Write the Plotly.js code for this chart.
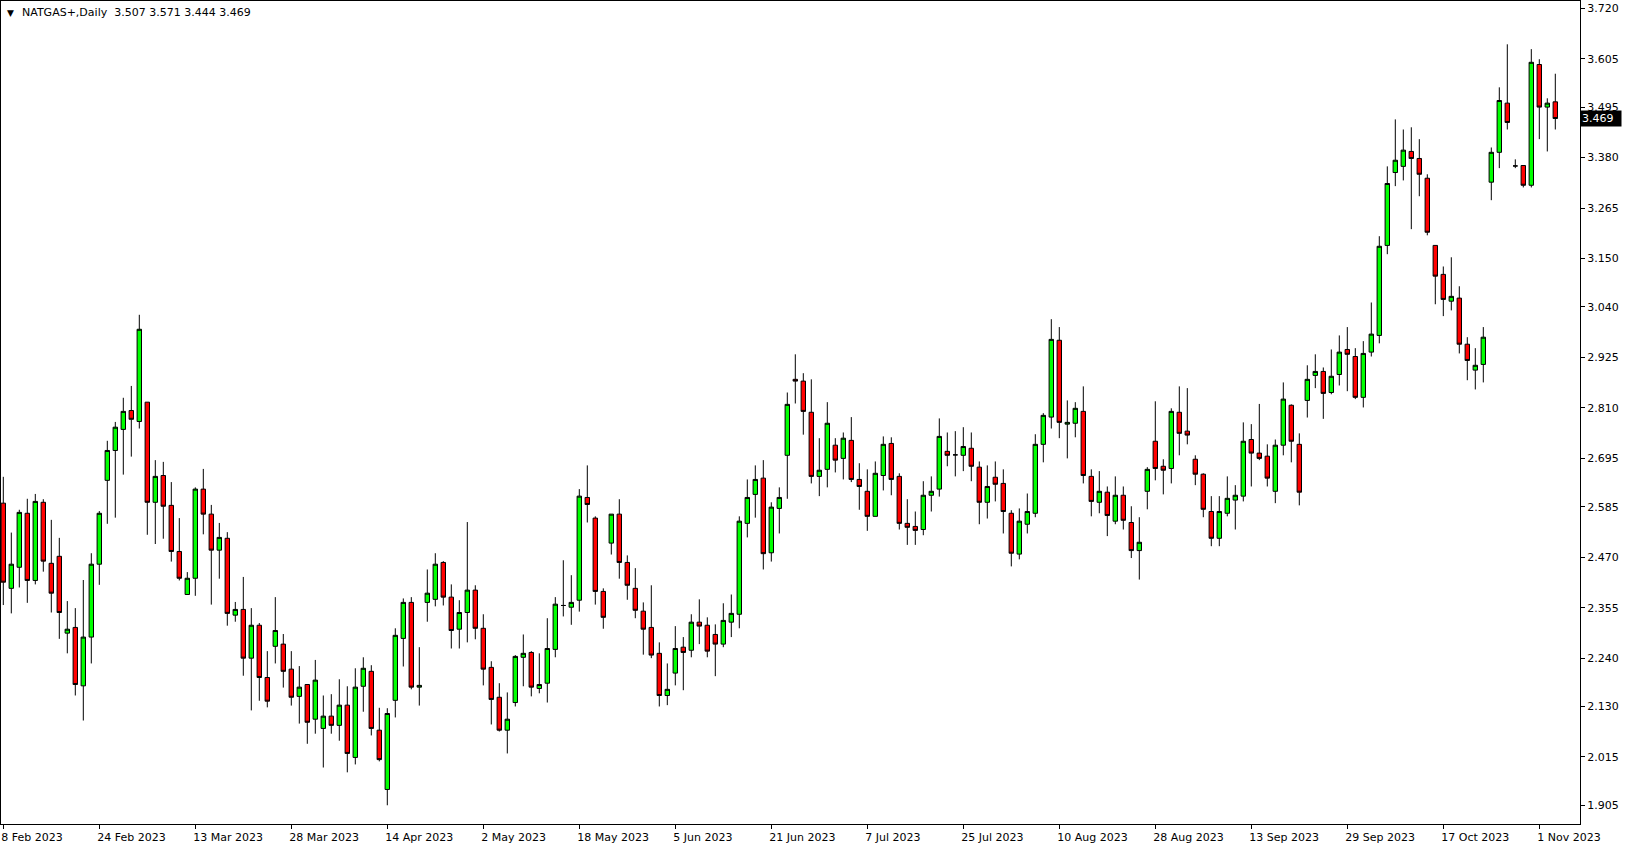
<!DOCTYPE html>
<html><head><meta charset="utf-8">
<script src="https://cdn.plot.ly/plotly-3.0.1.min.js"></script>
<style>html,body{margin:0;padding:0;background:#fff;overflow:hidden}#chart{width:1629px;height:850px}</style>
</head><body><div id="chart"></div>
<script>
const SYMBOL = "NATGAS+,Daily";

const OPEN = [
2.593,2.399,2.447,2.570,2.417,2.595,2.456,2.472,2.297,2.310,
2.177,2.288,2.454,2.645,2.713,2.761,2.804,2.779,2.823,2.595,
2.656,2.588,2.483,2.385,2.422,2.625,2.568,2.486,2.513,2.338,
2.351,2.240,2.315,2.196,2.267,2.272,2.215,2.153,2.180,2.101,
2.080,2.108,2.087,2.133,2.014,2.176,2.210,2.076,1.941,2.144,
2.285,2.367,2.174,2.367,2.374,2.458,2.379,2.306,2.344,2.395,
2.308,2.219,2.151,2.076,2.139,2.242,2.253,2.171,2.183,2.260,
2.360,2.356,2.372,2.606,2.559,2.392,2.502,2.568,2.458,2.399,
2.347,2.310,2.251,2.155,2.206,2.265,2.258,2.322,2.315,2.294,
2.272,2.322,2.340,2.547,2.613,2.650,2.480,2.581,2.702,2.875,
2.871,2.800,2.654,2.670,2.725,2.695,2.736,2.647,2.620,2.563,
2.656,2.729,2.654,2.547,2.540,2.533,2.611,2.625,2.711,2.703,
2.702,2.718,2.675,2.595,2.652,2.638,2.570,2.477,2.545,2.570,
2.727,2.789,2.964,2.773,2.775,2.802,2.654,2.595,2.618,2.552,
2.611,2.549,2.485,2.620,2.734,2.677,2.672,2.800,2.757,2.693,
2.659,2.574,2.513,2.570,2.600,2.609,2.738,2.707,2.700,2.620,
2.725,2.816,2.727,2.827,2.884,2.893,2.845,2.886,2.943,2.927,
2.834,2.937,2.975,3.180,3.346,3.360,3.394,3.378,3.333,3.180,
3.114,3.053,3.060,2.955,2.896,2.909,3.324,3.392,3.504,3.361,
3.362,3.317,3.592,3.495,3.507];

const HIGH = [
2.653,2.526,2.578,2.603,2.614,2.602,2.555,2.514,2.370,2.354,
2.418,2.479,2.575,2.735,2.778,2.833,2.860,3.022,2.823,2.691,
2.687,2.641,2.559,2.436,2.629,2.671,2.589,2.548,2.527,2.368,
2.425,2.354,2.320,2.256,2.379,2.295,2.256,2.222,2.180,2.236,
2.155,2.158,2.192,2.176,2.217,2.242,2.224,2.127,2.126,2.308,
2.376,2.379,2.265,2.442,2.479,2.461,2.408,2.372,2.550,2.406,
2.340,2.233,2.183,2.162,2.247,2.294,2.256,2.251,2.331,2.379,
2.463,2.429,2.625,2.679,2.563,2.399,2.568,2.602,2.474,2.445,
2.367,2.406,2.276,2.228,2.313,2.288,2.340,2.374,2.333,2.317,
2.365,2.385,2.563,2.647,2.679,2.691,2.595,2.629,2.845,2.932,
2.889,2.875,2.741,2.823,2.741,2.754,2.789,2.684,2.670,2.688,
2.745,2.743,2.661,2.602,2.574,2.643,2.654,2.786,2.754,2.757,
2.766,2.754,2.688,2.679,2.688,2.670,2.577,2.581,2.615,2.750,
2.798,3.012,2.994,2.827,2.823,2.859,2.670,2.666,2.631,2.654,
2.631,2.586,2.561,2.675,2.825,2.693,2.809,2.859,2.855,2.702,
2.661,2.609,2.609,2.654,2.634,2.777,2.773,2.819,2.727,2.738,
2.868,2.818,2.752,2.907,2.932,2.902,2.943,2.975,2.994,2.946,
2.962,3.050,3.201,3.360,3.467,3.444,3.449,3.422,3.342,3.180,
3.132,3.153,3.087,2.971,2.946,2.994,3.403,3.540,3.638,3.376,
3.362,3.627,3.604,3.515,3.571];

const LOW = [
2.361,2.342,2.401,2.366,2.408,2.437,2.344,2.284,2.251,2.155,
2.098,2.228,2.407,2.546,2.560,2.658,2.699,2.763,2.521,2.500,
2.512,2.460,2.417,2.385,2.382,2.522,2.362,2.421,2.314,2.323,
2.200,2.121,2.143,2.128,2.228,2.173,2.132,2.091,2.045,2.068,
1.991,2.068,2.052,1.980,1.998,2.118,2.064,2.005,1.905,2.105,
2.221,2.169,2.132,2.323,2.358,2.360,2.262,2.262,2.276,2.283,
2.178,2.089,2.073,2.023,2.130,2.176,2.153,2.160,2.139,2.242,
2.335,2.316,2.346,2.549,2.362,2.307,2.476,2.421,2.373,2.331,
2.248,2.240,2.130,2.133,2.178,2.167,2.242,2.272,2.242,2.199,
2.265,2.288,2.308,2.515,2.560,2.442,2.460,2.524,2.603,2.820,
2.749,2.638,2.609,2.629,2.663,2.647,2.641,2.578,2.530,2.563,
2.622,2.611,2.533,2.498,2.498,2.520,2.574,2.608,2.677,2.654,
2.666,2.643,2.545,2.558,2.597,2.524,2.449,2.465,2.524,2.561,
2.686,2.763,2.741,2.695,2.743,2.638,2.563,2.570,2.518,2.545,
2.533,2.468,2.419,2.579,2.645,2.613,2.638,2.702,2.727,2.634,
2.561,2.495,2.495,2.563,2.533,2.597,2.631,2.691,2.631,2.593,
2.702,2.686,2.588,2.788,2.855,2.785,2.841,2.861,2.848,2.830,
2.811,2.927,2.957,3.160,3.315,3.328,3.217,3.292,3.203,3.046,
3.019,3.032,2.934,2.873,2.852,2.868,3.283,3.356,3.444,3.356,
3.312,3.312,3.422,3.394,3.444];

const CLOSE = [
2.413,2.454,2.572,2.417,2.597,2.461,2.388,2.344,2.306,2.180,
2.288,2.454,2.570,2.713,2.766,2.802,2.784,2.989,2.595,2.654,
2.586,2.483,2.422,2.422,2.625,2.568,2.486,2.515,2.342,2.351,
2.240,2.315,2.196,2.142,2.303,2.210,2.151,2.174,2.094,2.190,
2.108,2.087,2.133,2.023,2.174,2.217,2.080,2.009,2.114,2.292,
2.367,2.174,2.178,2.388,2.454,2.379,2.303,2.344,2.395,2.308,
2.215,2.146,2.076,2.101,2.244,2.251,2.174,2.180,2.262,2.363,
2.360,2.367,2.609,2.590,2.392,2.333,2.568,2.458,2.406,2.349,
2.306,2.247,2.155,2.169,2.262,2.253,2.322,2.313,2.256,2.272,
2.326,2.342,2.552,2.606,2.647,2.478,2.584,2.606,2.818,2.871,
2.802,2.654,2.668,2.775,2.691,2.741,2.647,2.631,2.563,2.661,
2.727,2.647,2.547,2.538,2.531,2.611,2.620,2.745,2.702,2.703,
2.722,2.677,2.595,2.631,2.636,2.574,2.479,2.552,2.574,2.727,
2.793,2.966,2.777,2.777,2.809,2.656,2.597,2.620,2.565,2.611,
2.554,2.485,2.504,2.670,2.672,2.668,2.802,2.752,2.748,2.659,
2.579,2.513,2.574,2.604,2.611,2.734,2.707,2.695,2.650,2.725,
2.830,2.734,2.618,2.875,2.893,2.843,2.882,2.937,2.932,2.834,
2.934,2.978,3.178,3.321,3.374,3.397,3.378,3.342,3.210,3.110,
3.057,3.064,2.955,2.918,2.907,2.971,3.392,3.510,3.460,3.361,
3.317,3.597,3.495,3.504,3.469];

const DATE_LABELS = ["8 Feb 2023","24 Feb 2023","13 Mar 2023","28 Mar 2023","14 Apr 2023",
  "2 May 2023","18 May 2023","5 Jun 2023","21 Jun 2023","7 Jul 2023","25 Jul 2023",
  "10 Aug 2023","28 Aug 2023","13 Sep 2023","29 Sep 2023","17 Oct 2023","1 Nov 2023"];
const BARS_PER_DATE_LABEL = 12;

const PRICE_LABELS = ["3.720","3.605","3.495","3.380","3.265","3.150","3.040","2.925",
  "2.810","2.695","2.585","2.470","2.355","2.240","2.130","2.015","1.905"];

const BAR = OPEN.map((_, i) => i);
const dateTickVals = DATE_LABELS.map((_, k) => k * BARS_PER_DATE_LABEL);
const last = OPEN.length - 1;

const FONT = "DejaVu Sans, Verdana, sans-serif";

const trace = {
  type: "candlestick",
  x: BAR, open: OPEN, high: HIGH, low: LOW, close: CLOSE,
  increasing: {fillcolor: "#00ff00", line: {color: "#000000", width: 1}},
  decreasing: {fillcolor: "#ff0000", line: {color: "#000000", width: 1}},
  whiskerwidth: 0,
  hoverinfo: "skip",
  showlegend: false
};

const layout = {
  width: 1629, height: 850,
  margin: {l: 1, r: 49, t: 1, b: 26, pad: 0},
  paper_bgcolor: "#ffffff", plot_bgcolor: "#ffffff",
  showlegend: false,
  boxgap: 0.45,
  boxgroupgap: 0,
  font: {family: FONT, size: 11, color: "#000000"},
  xaxis: {
    type: "linear",
    range: [-0.2875, 197.0875],
    rangeslider: {visible: false},
    showgrid: false, zeroline: false,
    showline: true, mirror: true, linecolor: "#000000", linewidth: 1,
    ticks: "outside", ticklen: 4, tickcolor: "#000000", tickwidth: 1,
    tickmode: "array", tickvals: dateTickVals, ticktext: DATE_LABELS,
    ticklabelposition: "outside right",
    ticklabelshift: -3,
    ticklabelstandoff: 3,
    tickfont: {family: FONT, size: 11, color: "#000000"},
    fixedrange: true
  },
  yaxis: {
    side: "right",
    range: [1.86234, 3.73662],
    showgrid: false, zeroline: false,
    showline: true, mirror: true, linecolor: "#000000", linewidth: 1,
    ticks: "outside", ticklen: 4, tickcolor: "#000000", tickwidth: 1,
    tickmode: "array", tickvals: PRICE_LABELS.map(Number), ticktext: PRICE_LABELS,
    tickfont: {family: FONT, size: 11, color: "#000000"},
    fixedrange: true
  },
  annotations: [
    {xref: "paper", yref: "paper", x: 0, y: 1, xanchor: "left", yanchor: "middle",
     xshift: 4, yshift: -11.5, showarrow: false, text: "▼",
     font: {family: FONT, size: 9, color: "#000000"}},
    {xref: "paper", yref: "paper", x: 0, y: 1, xanchor: "left", yanchor: "middle",
     xshift: 19, yshift: -11.5, showarrow: false,
     text: SYMBOL + "\u00a0\u00a0" + [OPEN[last], HIGH[last], LOW[last], CLOSE[last]].map(v => v.toFixed(3)).join("\u00a0"),
     font: {family: FONT, size: 11, color: "#000000"}},
    {xref: "paper", yref: "y", x: 1, y: CLOSE[last], xanchor: "left", yanchor: "middle",
     xshift: 0, showarrow: false, text: CLOSE[last].toFixed(3),
     bgcolor: "#000000", borderpad: 1, width: 38, align: "left",
     font: {family: FONT, size: 11, color: "#ffffff"}}
  ]
};

Plotly.newPlot("chart", [trace], layout, {staticPlot: true, displayModeBar: false});
</script>
</body></html>
